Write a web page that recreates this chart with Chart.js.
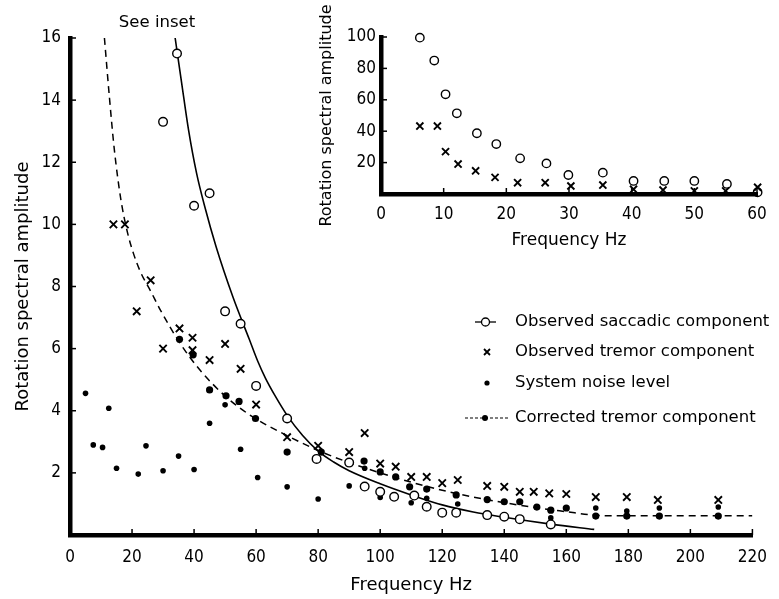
<!DOCTYPE html>
<html><head><meta charset="utf-8">
<script src="https://cdn.jsdelivr.net/npm/chart.js@4/dist/chart.umd.min.js"></script>
<style>
html,body{margin:0;padding:0;background:#fff;}
#wrap{position:relative;width:779px;height:599px;overflow:hidden;}
#main{position:absolute;left:0;top:0;width:779px;height:599px;}
#inset{position:absolute;left:300px;top:0;width:479px;height:255px;}
</style></head><body>
<div id="wrap">
<canvas id="main" width="779" height="599"></canvas>
<canvas id="inset" width="479" height="255"></canvas>
</div>
<script>
// ---------- main chart data ----------
const xTickValues = [0,20,40,60,80,100,120,140,160,180,200,220];
const yTickValues = [2,4,6,8,10,12,14,16];

const saccadicFreq = [30,34.5,40,45,50,55,60,70,79.5,90,95,100,104.5,111,115,120,124.5,134.5,140,145,155];
const saccadicAmp  = [13.3,15.5,10.6,11.0,7.2,6.8,4.8,3.75,2.45,2.33,1.56,1.39,1.23,1.27,0.91,0.72,0.72,0.64,0.59,0.51,0.34];

const tremorFreq = [14,17.7,21.5,26,30,35.3,39.5,39.5,45,50,55,60,70,80,90,95,100,105,110,115,120,125,134.5,140,145,149.5,154.5,160,169.5,179.5,189.5,209];
const tremorAmp  = [10.0,10.0,7.2,8.2,6.0,6.65,6.35,5.95,5.63,6.15,5.35,4.2,3.15,2.87,2.67,3.28,2.3,2.2,1.87,1.87,1.67,1.77,1.58,1.55,1.39,1.39,1.34,1.32,1.22,1.22,1.13,1.13];

const noiseFreq = [5,7.5,10.5,12.5,15,22,24.5,30,35,40,45,50,55,60.5,70,80,90,95,100,110,115,125,155,169.5,179.5,190,209];
const noiseAmp  = [4.56,2.9,2.82,4.08,2.15,1.96,2.87,2.07,2.54,2.11,3.6,4.19,2.76,1.85,1.55,1.16,1.58,2.15,1.21,1.04,1.18,1.0,0.55,0.87,0.77,0.87,0.9];

const correctedFreq = [35.3,39.7,45,50.3,54.5,59.8,70,81,94.8,100,105,109.5,115,124.5,134.5,140,145,150.5,155,160,169.5,179.5,190,209];
const correctedAmp  = [6.3,5.8,4.67,4.48,4.3,3.75,2.67,2.67,2.38,2.03,1.87,1.55,1.48,1.29,1.14,1.07,1.07,0.9,0.8,0.87,0.61,0.61,0.61,0.61];

const saccadicFitFreq = [33.9,36,38.2,40.8,43.5,47.1,52.5,57.8,60.5,63,66,70,75,80,85,90,100,110,120,130,140,155,169];
const saccadicFitAmp  = [16.0,14.55,13.05,11.65,10.55,9.28,7.67,6.3,5.6,5.05,4.5,3.85,3.2,2.7,2.35,2.07,1.65,1.29,0.97,0.74,0.57,0.35,0.18];

const tremorFitFreq = [11.1,12.7,14.3,16.4,18.5,20.5,22.8,26,29.1,35.5,41.9,50.3,58.8,70,80,90,100,110,120,130,140,150,160,169,175,220];
const tremorFitAmp  = [16.0,14.1,12.4,10.8,9.75,9.05,8.45,7.85,7.25,6.17,5.31,4.45,3.81,3.2,2.72,2.33,2.0,1.7,1.44,1.22,1.04,0.88,0.75,0.64,0.62,0.62];

const seriesLabels = ['Observed saccadic component','Observed tremor component','System noise level','Corrected tremor component'];

// ---------- inset data ----------
const insetXTicks = [0,10,20,30,40,50,60];
const insetYTicks = [20,40,60,80,100];
const insetSaccFreq = [6.2,8.5,10.3,12.1,15.3,18.4,22.2,26.4,29.9,35.4,40.3,45.2,50,55.2,60.1];
const insetSaccAmp  = [99.6,85,63.5,51.4,38.7,31.8,22.7,19.5,12.1,13.6,8.3,8.3,8.3,6.4,1.1];
const insetTremFreq = [6.2,9,10.3,12.3,15.1,18.2,21.8,26.2,30.3,35.4,40.3,45,50,55,60.1];
const insetTremAmp  = [43.3,43.3,27,19.1,14.8,10.6,7.2,7.2,5.1,5.7,3,2.5,2,2,4.3];

const FONT = '"DejaVu Sans Condensed", "DejaVu Sans", sans-serif';
const FONT2 = '"DejaVu Sans", sans-serif';
const pts = (xs, ys) => xs.map((x,i)=>({x:x,y:ys[i]}));

const inwardTicks = {
  id:'inwardTicks',
  afterDraw(chart){
    const {ctx, chartArea} = chart;
    const xs = chart.scales.x, ys = chart.scales.y;
    ctx.save(); ctx.strokeStyle='#000'; ctx.lineWidth=1.5;
    xs.ticks.forEach(t=>{const p=xs.getPixelForValue(t.value);ctx.beginPath();ctx.moveTo(p,chartArea.bottom);ctx.lineTo(p,chartArea.bottom-6);ctx.stroke();});
    ys.ticks.forEach(t=>{const p=ys.getPixelForValue(t.value);ctx.beginPath();ctx.moveTo(chartArea.left,p);ctx.lineTo(chartArea.left+6,p);ctx.stroke();});
    ctx.restore();
  }
};

const legendPlugin = {
  id:'customLegend',
  afterDraw(chart){
    const ctx = chart.ctx;
    ctx.save();
    ctx.fillStyle='#000'; ctx.strokeStyle='#000';
    ctx.font = '16.5px ' + FONT2;
    ctx.textBaseline='middle'; ctx.textAlign='left';
    const rows=[322,352,383,418];
    const tx=515;
    // row 1: -o-
    ctx.lineWidth=1.3;
    ctx.beginPath();ctx.moveTo(475,rows[0]);ctx.lineTo(496,rows[0]);ctx.stroke();
    ctx.beginPath();ctx.arc(485.5,rows[0],4,0,Math.PI*2);ctx.fillStyle='#fff';ctx.fill();ctx.stroke();
    ctx.fillStyle='#000';
    // row 2: x
    ctx.lineWidth=1.8;
    ctx.beginPath();ctx.moveTo(484,rows[1]-3);ctx.lineTo(490,rows[1]+3);ctx.moveTo(490,rows[1]-3);ctx.lineTo(484,rows[1]+3);ctx.stroke();
    // row 3: dot
    ctx.beginPath();ctx.arc(487,rows[2],2.6,0,Math.PI*2);ctx.fill();
    // row 4: ---•---
    ctx.lineWidth=1.2; ctx.setLineDash([3,2]);
    ctx.beginPath();ctx.moveTo(465,rows[3]);ctx.lineTo(510,rows[3]);ctx.stroke();
    ctx.setLineDash([]);
    ctx.beginPath();ctx.arc(485,rows[3],3,0,Math.PI*2);ctx.fill();
    seriesLabels.forEach((l,i)=>ctx.fillText(l,tx,rows[i]));
    // "See inset"
    ctx.textAlign='center';
    ctx.fillText('See inset',157,23);
    ctx.restore();
  }
};

new Chart(document.getElementById('main'), {
  type:'scatter',
  data:{datasets:[
    {label:seriesLabels[0], data:pts(saccadicFreq,saccadicAmp), pointStyle:'circle', pointRadius:4.3, pointBorderWidth:1.4, borderColor:'#000', backgroundColor:'#fff', clip:false},
    {label:seriesLabels[1], data:pts(tremorFreq,tremorAmp), pointStyle:'crossRot', pointRadius:5.2, pointBorderWidth:1.9, borderColor:'#000', backgroundColor:'#000'},
    {label:seriesLabels[3], data:pts(correctedFreq,correctedAmp), pointStyle:'circle', pointRadius:3.6, pointBorderWidth:0, borderColor:'#000', backgroundColor:'#000'},
    {label:seriesLabels[2], data:pts(noiseFreq,noiseAmp), pointStyle:'circle', pointRadius:2.8, pointBorderWidth:0, borderColor:'#000', backgroundColor:'#000'},
    {label:'saccadic fit', data:pts(saccadicFitFreq,saccadicFitAmp), showLine:true, pointRadius:0, borderColor:'#000', borderWidth:1.6, cubicInterpolationMode:'monotone'},
    {label:'tremor fit', data:pts(tremorFitFreq,tremorFitAmp), showLine:true, pointRadius:0, borderColor:'#000', borderWidth:1.5, borderDash:[7,5], cubicInterpolationMode:'monotone'}
  ]},
  options:{
    responsive:false, animation:false, devicePixelRatio:1,
    layout:{padding:{top:38,right:17,left:0,bottom:0}},
    plugins:{legend:{display:false}, tooltip:{enabled:false}},
    scales:{
      x:{type:'linear', min:0, max:220,
         afterBuildTicks(s){ s.ticks = xTickValues.map(v=>({value:v})); },
         afterFit(s){ s.height = 64; },
         grid:{display:true, drawOnChartArea:false, drawTicks:false},
         border:{display:true, color:'#000', width:4.5},
         ticks:{color:'#000', font:{family:FONT, size:17}, padding:12, maxRotation:0, autoSkip:false},
         title:{display:true, text:'Frequency Hz', color:'#000', font:{family:FONT2, size:18}, padding:{top:0,bottom:3}}
      },
      y:{type:'linear', min:0, max:16,
         afterBuildTicks(s){ s.ticks = yTickValues.map(v=>({value:v})); },
         afterFit(s){ s.width = 70; },
         grid:{display:true, drawOnChartArea:false, drawTicks:false},
         border:{display:true, color:'#000', width:4.5},
         ticks:{color:'#000', font:{family:FONT, size:17}, padding:9, autoSkip:false},
         title:{display:true, text:'Rotation spectral amplitude', color:'#000', font:{family:FONT2, size:18}, padding:{top:13,bottom:0}}
      }
    }
  },
  plugins:[inwardTicks, legendPlugin]
});

new Chart(document.getElementById('inset'), {
  type:'scatter',
  data:{datasets:[
    {label:seriesLabels[0], data:pts(insetSaccFreq,insetSaccAmp), pointStyle:'circle', pointRadius:4.2, pointBorderWidth:1.4, borderColor:'#000', backgroundColor:'rgba(255,255,255,0)', clip:false},
    {label:seriesLabels[1], data:pts(insetTremFreq,insetTremAmp), pointStyle:'crossRot', pointRadius:5, pointBorderWidth:1.9, borderColor:'#000', backgroundColor:'#000', clip:false}
  ]},
  options:{
    responsive:false, animation:false, devicePixelRatio:1,
    layout:{padding:{top:37,right:22,left:0,bottom:0}},
    plugins:{legend:{display:false}, tooltip:{enabled:false}},
    scales:{
      x:{type:'linear', min:0, max:60,
         afterBuildTicks(s){ s.ticks = insetXTicks.map(v=>({value:v})); },
         afterFit(s){ s.height = 61; },
         grid:{display:true, drawOnChartArea:false, drawTicks:false},
         border:{display:true, color:'#000', width:4.5},
         ticks:{color:'#000', font:{family:FONT, size:17}, padding:10, maxRotation:0, autoSkip:false},
         title:{display:true, text:'Frequency Hz', color:'#000', font:{family:FONT2, size:17}, padding:{top:0,bottom:4}}
      },
      y:{type:'linear', min:0, max:100,
         afterBuildTicks(s){ s.ticks = insetYTicks.map(v=>({value:v})); },
         afterFit(s){ s.width = 81; },
         grid:{display:true, drawOnChartArea:false, drawTicks:false},
         border:{display:true, color:'#000', width:4.5},
         ticks:{color:'#000', font:{family:FONT, size:17}, padding:5, autoSkip:false},
         title:{display:true, text:'Rotation spectral amplitude', color:'#000', font:{family:FONT2, size:16}, padding:{top:17,bottom:0}}
      }
    }
  },
  plugins:[inwardTicks]
});
</script>
</body></html>
